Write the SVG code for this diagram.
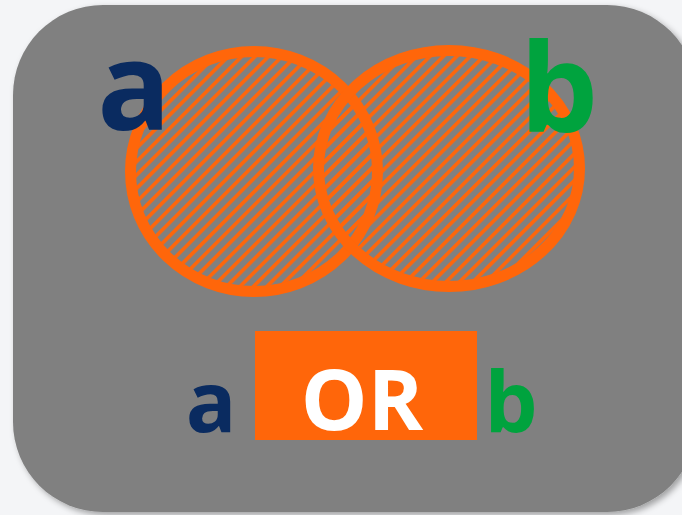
<svg xmlns="http://www.w3.org/2000/svg" width="682" height="515" viewBox="0 0 682 515">
<style>
.lbl{font-family:"Open Sans","Liberation Sans",sans-serif;font-weight:700;text-anchor:middle}
.na{fill:#0A2B60}
.nb{fill:#00A33E}
.ring{fill:url(#hatch);stroke:#FF660A;stroke-width:11}
</style>
<defs>
<pattern id="hatch" patternUnits="userSpaceOnUse" width="9.5" height="9.5" patternTransform="rotate(45)">
<rect x="0" y="-1" width="3.6" height="11.5" fill="#FF660A"/>
</pattern>
<filter id="sh" x="-5%" y="-5%" width="110%" height="110%">
<feDropShadow dx="3" dy="3" stdDeviation="3" flood-color="#000" flood-opacity="0.35"/>
</filter>
</defs>
<rect x="0" y="0" width="682" height="515" fill="#F4F5F7"/>
<rect x="13" y="5" width="684" height="507" rx="90" ry="90" fill="#808080" filter="url(#sh)"/>
<g id="setA">
<ellipse class="ring" cx="254" cy="171.5" rx="123.5" ry="120"/>
</g>
<g id="setB">
<ellipse class="ring" cx="449" cy="168.5" rx="130.5" ry="118"/>
</g>
<g id="labelA"><text class="lbl na" x="134" y="130" font-size="122">a</text></g>
<g id="labelB"><text class="lbl nb" x="559" y="132" font-size="124">b</text></g>
<g id="formula">
<rect x="255" y="331" width="222" height="109" fill="#FF660A"/>
<text class="lbl na" x="211" y="432" font-size="84">a</text>
<text class="lbl" x="362" y="430" font-size="84" fill="#FFFFFF">OR</text>
<text class="lbl nb" x="511" y="432" font-size="84">b</text>
</g>
<g id="connectors"/>
</svg>
